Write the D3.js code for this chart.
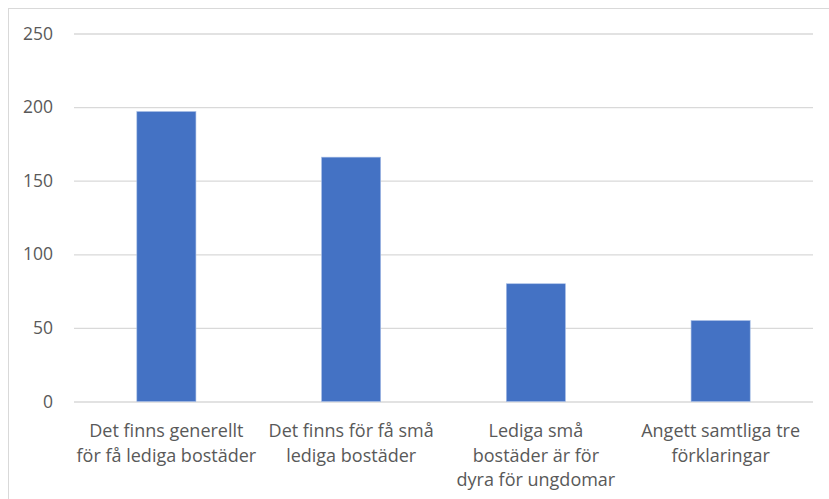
<!DOCTYPE html>
<html>
<head>
<meta charset="utf-8">
<script src="https://cdn.jsdelivr.net/npm/d3@7"></script>
<style>
  html, body { margin: 0; padding: 0; background: #fff; }
  svg { display: block; }
  text { font-family: "Open Sans", "Liberation Sans", sans-serif; fill: #595959; }
</style>
</head>
<body>
<svg id="chart" width="829" height="499"></svg>
<script>
// Reasons given for the shortage of housing for young people
const categories = [
  ["Det finns generellt", "för få lediga bostäder"],
  ["Det finns för få små", "lediga bostäder"],
  ["Lediga små", "bostäder är för", "dyra för ungdomar"],
  ["Angett samtliga tre", "förklaringar"]
];
const values = [197, 166, 80, 55];
const yTicks = [0, 50, 100, 150, 200, 250];

const svg = d3.select("#chart");
const W = 829, H = 499;
const plot = { left: 74, right: 813, top: 33.5, bottom: 401.5 };

// chart area frame (runs past the right and bottom edges)
svg.append("rect")
  .attr("x", 8.5).attr("y", 8.5)
  .attr("width", W + 10).attr("height", H + 10)
  .attr("fill", "#fff").attr("stroke", "#d9d9d9").attr("stroke-width", 1);

const x = d3.scaleBand()
  .domain(d3.range(categories.length))
  .range([plot.left, plot.right])
  .paddingInner(0.68).paddingOuter(0.34);

const y = d3.scaleLinear().domain([0, 250]).range([plot.bottom, plot.top]);

// horizontal gridlines and value labels
const yAxis = d3.axisLeft(y).tickValues(yTicks).tickSize(-(plot.right - plot.left)).tickPadding(21);
const gy = svg.append("g").attr("transform", `translate(${plot.left},0)`).call(yAxis);
gy.select(".domain").remove();
gy.selectAll(".tick line").attr("stroke", "#d9d9d9").attr("stroke-width", 1.3);
gy.selectAll(".tick text")
  .attr("fill", "#595959").attr("font-size", "17.5px")
  .attr("font-family", "\"Open Sans\", sans-serif");

// bars
svg.append("g").selectAll("rect")
  .data(values)
  .join("rect")
  .attr("x", (d, i) => x(i))
  .attr("width", x.bandwidth())
  .attr("y", d => y(d))
  .attr("height", d => y(0) - y(d))
  .attr("fill", "#4472c4")
  .attr("stroke", "#a9bfe6").attr("stroke-width", 0.6);

// category labels, wrapped over several lines
const lab = svg.append("g").selectAll("text")
  .data(categories)
  .join("text")
  .attr("text-anchor", "middle")
  .attr("font-size", "18px")
  .attr("transform", (d, i) => `translate(${x(i) + x.bandwidth() / 2},0)`);
lab.selectAll("tspan")
  .data(d => d)
  .join("tspan")
  .attr("x", 0)
  .attr("y", (d, j) => 437 + j * 24.6)
  .text(d => d);
</script>
</body>
</html>
